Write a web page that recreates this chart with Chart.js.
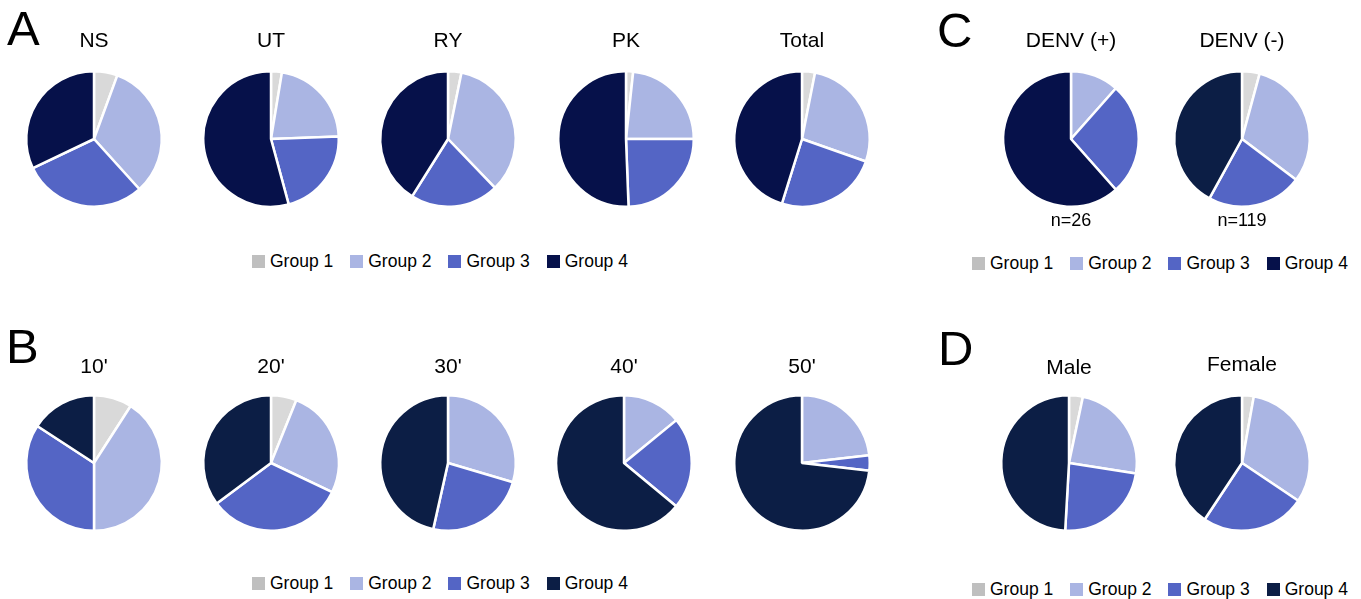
<!DOCTYPE html>
<html>
<head>
<meta charset="utf-8">
<script src="https://cdn.jsdelivr.net/npm/chart.js@4.4.1/dist/chart.umd.min.js"></script>
<style>
  body { margin: 0; background: #fff; width: 1361px; height: 599px; position: relative; overflow: hidden;
         font-family: "Liberation Sans", Arial, sans-serif; }
  .pie { position: absolute; }
  .letter { position: absolute; font-size: 49px; line-height: 1; color: #000; }
  .legend { position: absolute; display: flex; align-items: center; height: 20px; font-size: 17.5px; color: #000; white-space: nowrap; }
  .legend .item { display: flex; align-items: center; margin-right: 17px; }
  .legend .box { width: 13px; height: 13px; margin-right: 5px; }
</style>
</head>
<body>
<div class="letter" style="left:7px;top:4px">A</div>
<div class="letter" style="left:6px;top:322px">B</div>
<div class="letter" style="left:937px;top:6px">C</div>
<div class="letter" style="left:938px;top:324px">D</div>

<script>
// data (percent of each group, clockwise from 12 o'clock)
const groups = ['Group 1', 'Group 2', 'Group 3', 'Group 4'];

const titlesA = ['NS', 'UT', 'RY', 'PK', 'Total'];
const nsValues    = [5.6, 32.7, 29.6, 32.1];
const utValues    = [2.6, 21.8, 21.4, 54.2];
const ryValues    = [3.2, 34.6, 21.1, 41.1];
const pkValues    = [1.7, 23.3, 24.4, 50.6];
const totalValues = [3.1, 27.3, 24.4, 45.2];

const titlesB = ["10'", "20'", "30'", "40'", "50'"];
const age10 = [9.1, 40.9, 34.2, 15.8];
const age20 = [6.1, 26.0, 32.7, 35.2];
const age30 = [0, 29.6, 23.9, 46.5];
const age40 = [0, 14.1, 21.9, 64.0];
const age50 = [0, 23.2, 3.6, 73.2];

// panel C is counts
const titlesC = ['DENV (+)', 'DENV (-)'];
const denvPos = [0, 3, 7, 16];
const denvNeg = [5, 37, 27, 50];
const denvN = ['n=26', 'n=119'];

const titlesD = ['Male', 'Female'];
const male   = [3.3, 24.2, 23.4, 49.1];
const female = [2.8, 31.6, 24.9, 40.7];

// colours
const sliceColors = ['#d9d9d9', '#aab5e3', '#5465c5'];
const navyA = '#06114a';
const navyB = '#0c1e45';
const legendGray = '#bfbfbf';

const FONT = '"Liberation Sans", Arial, sans-serif';
const TITLE_SIZE = 21;

function makePie(title, values, dark, cx, cy, ty, sub) {
  const lh = TITLE_SIZE * 1.2;
  const top = Math.round(ty - lh / 2);
  const pb = (cy - 69) - top - lh;
  const h = (cy + 69) - top + (sub ? 24 : 0);
  const canvas = document.createElement('canvas');
  canvas.className = 'pie';
  canvas.width = 160;
  canvas.height = h;
  canvas.style.left = (cx - 80) + 'px';
  canvas.style.top = top + 'px';
  document.body.appendChild(canvas);

  new Chart(canvas, {
    type: 'pie',
    data: {
      labels: groups,
      datasets: [{
        data: values,
        backgroundColor: sliceColors.concat([dark]),
        borderColor: '#fff',
        borderWidth: 2.5
      }]
    },
    options: {
      responsive: false,
      animation: false,
      events: [],
      layout: { padding: 0 },
      plugins: {
        legend: { display: false },
        tooltip: { enabled: false },
        title: {
          display: true,
          text: title,
          color: '#000',
          font: { family: FONT, size: TITLE_SIZE, weight: 'normal', lineHeight: 1.2 },
          padding: { top: 0, bottom: pb }
        },
        subtitle: {
          display: !!sub,
          text: sub || '',
          position: 'bottom',
          color: '#000',
          font: { family: FONT, size: 18, weight: 'normal', lineHeight: 1.2 },
          padding: { top: 2, bottom: 0.4 }
        }
      }
    }
  });
}

function makeLegend(left, centerY, dark) {
  const div = document.createElement('div');
  div.className = 'legend';
  div.style.left = left + 'px';
  div.style.top = (centerY - 10) + 'px';
  const cols = [legendGray, sliceColors[1], sliceColors[2], dark];
  groups.forEach((g, i) => {
    const item = document.createElement('div');
    item.className = 'item';
    item.innerHTML = '<div class="box" style="background:' + cols[i] + '"></div><span>' + g + '</span>';
    div.appendChild(item);
  });
  document.body.appendChild(div);
}

// panel A
const xsA = [94, 271, 448, 626, 802];
[nsValues, utValues, ryValues, pkValues, totalValues].forEach((v, i) => {
  makePie(titlesA[i], v, navyA, xsA[i], 139, 42);
});
makeLegend(252, 261.5, navyA);

// panel B
const xsB = [94, 271, 448, 624, 802];
[age10, age20, age30, age40, age50].forEach((v, i) => {
  makePie(titlesB[i], v, navyB, xsB[i], 463, 368);
});
makeLegend(252, 583.5, navyB);

// panel C
makePie(titlesC[0], denvPos, navyA, 1071, 139, 42, denvN[0]);
makePie(titlesC[1], denvNeg, navyB, 1242, 139, 42, denvN[1]);
makeLegend(972, 263, navyA);

// panel D
makePie(titlesD[0], male, navyB, 1069, 463, 369);
makePie(titlesD[1], female, navyB, 1242, 463, 366);
makeLegend(972, 589, navyB);
</script>
</body>
</html>
